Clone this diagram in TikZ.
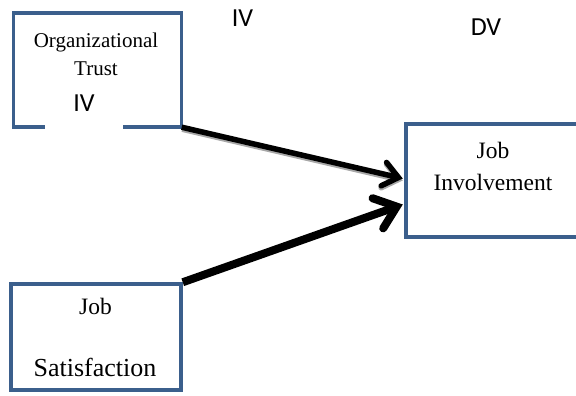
\documentclass[tikz,border=0pt]{standalone}
\usepackage{fontspec}
\setmainfont{Liberation Serif}
\newfontfamily\calib{Carlito}
\usetikzlibrary{arrows.meta,calc,positioning}
\definecolor{boxBlue}{HTML}{3B5F8C}
\definecolor{arrowShade}{HTML}{A8A8A8}

\begin{document}
\begin{tikzpicture}[x=1pt,y=-1pt,line join=miter]
\clip (0,0) rectangle (576,396);
\tikzset{frame/.style={inner sep=0pt,minimum width=168pt,minimum height=114pt},
 box/.style={draw=boxBlue,line width=3.5pt,inner sep=0pt},
 outline/.style={draw=boxBlue,line width=3.5pt},
 serif/.style={anchor=base,inner sep=0pt,font=\fontsize{23.5}{28}\selectfont},
 tag/.style={anchor=base,inner sep=0pt,font=\calib\fontsize{26}{30}\selectfont},
 link/.style={line width=5.5pt,line join=round,-{Straight Barb[length=15pt,width=24pt,line cap=round]}},
 biglink/.style={line width=8pt,line join=round,-{Straight Barb[length=20pt,width=32pt,line cap=round]}}}
% boxes
\node[frame] (orgtrust) at (97.5,70) {};
\draw[outline] ([xshift=31.5pt]orgtrust.south west) -- (orgtrust.south west) -- (orgtrust.north west) -- (orgtrust.north east) -- (orgtrust.south east) -- ([xshift=-58.5pt]orgtrust.south east);
\node[box,minimum width=174pt,minimum height=113pt] (jobinv) at (493,180.5) {};
\node[box,minimum width=170pt,minimum height=106pt] (jobsat) at (96,337) {};
% texts
\node[serif,font=\fontsize{21}{28}\selectfont] (orgname) at (96,47.7) {Organizational};
\node[serif,font=\fontsize{21}{28}\selectfont] (orgname2) at (96,76) {Trust};
\node[tag] (ivbox) at (84,111.5) {IV};
\node[tag] (ivtop) at (242.5,27) {IV};
\node[tag] (dvtop) at (486,36) {DV};
\node[serif] (invname) at (493,158) {Job};
\node[serif] (invname2) at (493,190.5) {Involvement};
\node[serif] (satname) at (95.5,314) {Job};
\node[serif,font=\fontsize{26}{30}\selectfont] (satname2) at (95,376) {Satisfaction};
% arrows
\draw[link,arrowShade] ([shift={(0.5,2)}]orgtrust.south east) -- ([shift={(-1.5,0)}]jobinv.west);
\draw[link] (orgtrust.south east) -- ([shift={(-1.5,-2)}]jobinv.west);
\draw[biglink] (jobsat.north east) -- ([shift={(-1.5,24)}]jobinv.west);
\end{tikzpicture}
\end{document}
